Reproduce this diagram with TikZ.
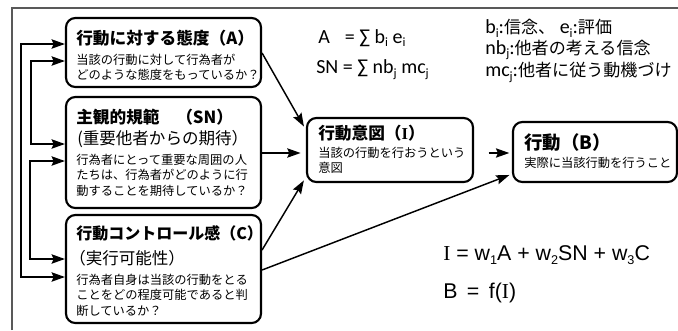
\documentclass[tikz,border=0pt]{standalone}
\usepackage{fontspec}
\setmainfont{Liberation Sans}
\newfontfamily\jp{Noto Sans CJK JP}
\newfontfamily\calf{Carlito}
\newfontfamily\lser{Liberation Serif}
\usetikzlibrary{arrows.meta,fit}
\newcommand\lsub[1]{\raisebox{-0.4ex}{\fontsize{9.5}{10}\selectfont #1}}
\newcommand\jps{\jp\fontsize{12.8}{15}\selectfont}
\tikzset{
  x=0.75pt, y=-0.75pt,
  box/.style={draw, line width=1.6pt, rounded corners=7pt, inner sep=0pt},
  tip/.tip={Stealth[length=10pt,width=7pt,inset=1.5pt]},
  conn/.style={line width=1.1pt, -tip},
  biconn/.style={line width=1.1pt, tip-tip},
  ttl/.style={anchor=west, inner sep=0pt, font=\jp\bfseries\fontsize{12.5}{14}\selectfont},
  subttl/.style={anchor=west, inner sep=0pt, font=\jp\fontsize{12.4}{14}\selectfont},
  bod/.style={anchor=north west, inner sep=0pt, align=left, font=\jp\fontsize{9.2}{11.7}\selectfont},
  frm/.style={anchor=west, inner sep=0pt, font=\calf\fontsize{15}{18}\selectfont},
  eqn/.style={anchor=west, inner sep=0pt, font=\fontsize{16}{18}\selectfont},
}
\begin{document}
\begin{tikzpicture}
\useasboundingbox (0,0) rectangle (678,330);
% outer frame (partly visible)
\draw[line width=1.2pt, black!65] (12,330) -- (12,8) -- (678,8);

% boxes
\node[box, fit={(66,18)(261,87)}] (A) {};
\node[box, fit={(66,97)(261,208)}] (SN) {};
\node[box, fit={(66,215)(261,323)}] (C) {};
\node[box, fit={(307,118)(473,182)}] (I) {};
\node[box, fit={(513,122)(677,182)}] (B) {};

% box texts
\node[ttl] (At) at (76,38) {行動に対する態度（A）};
\node[bod] (Ab) at (76,53.5) {当該の行動に対して行為者が\\どのような態度をもっているか？};
\node[ttl] (St) at (76,117) {主観的規範　（SN）};
\node[subttl] (Ss) at (77,139) {(重要他者からの期待）};
\node[bod] (Sb) at (76,153.5) {行為者にとって重要な周囲の人\\たちは、行為者がどのように行\\動することを期待しているか？};
\node[ttl, font=\jp\bfseries\fontsize{12}{14}\selectfont] (Ct) at (76,233) {行動コントロール感（C）};
\node[subttl] (Cs) at (69,258) {（実行可能性）};
\node[bod] (Cb) at (76,273.5) {行為者自身は当該の行動をとる\\ことをどの程度可能であると判\\断しているか？};
\node[ttl] (It) at (318,133) {行動意図（{\lser I}）};
\node[bod] (Ib) at (318,146.5) {当該の行動を行おうという\\意図};
\node[ttl, font=\jp\bfseries\fontsize{13.8}{16}\selectfont] (Bt) at (524,143) {行動（B）};
\node[anchor=west, inner sep=0pt, font=\jp\fontsize{9.2}{11}\selectfont] (Bb) at (524,163) {実際に当該行動を行うこと};

% formulas
\node[frm] (fA) at (318,38) {\rlap{A}\hphantom{SN} = ∑ b\lsub{i} e\lsub{i}};
\node[frm] (fS) at (316,70) {SN = ∑ nb\lsub{j} mc\lsub{j}};
\node[frm] (d1) at (485,28) {b\lsub{i}:{\jps 信念、}\ e\lsub{i}:{\jps 評価}};
\node[frm] (d2) at (485,50) {nb\lsub{j}:{\jps 他者の考える信念}};
\node[frm] (d3) at (485,72) {mc\lsub{j}:{\jps 他者に従う動機づけ}};
\node[eqn] (e1) at (443,255) {{\lser I} = w\lsub{1}A + w\lsub{2}SN + w\lsub{3}C};
\node[eqn] (e2) at (443,293) {B \,=\, f({\lser I})};

% connectors on the left
\draw[biconn] (A.west |- 0,44) -- (21,44) -- (21,277) -- (C.west |- 0,277);
\draw[biconn] (A.west |- 0,61) -- (31,61) -- (31,144) -- (SN.west |- 0,144);
\draw[biconn] (SN.west |- 0,161) -- (30,161) -- (30,259) -- (C.west |- 0,259);

% connectors to the right
\draw[conn, shorten >=3pt] (A.east |- 0,53) -- (I.west |- 0,130);
\draw[conn, shorten >=4pt] (SN.east |- 0,153) -- (I.west |- 0,153);
\draw[conn, shorten >=3pt] (C.east |- 0,250) -- (I.west |- 0,177);
\draw[conn, shorten <=11pt, shorten >=2pt] (I.east |- 0,153) -- (B.west |- 0,153);
\draw[conn, shorten >=2pt] (C.east |- 0,270) -- (B.west |- 0,174);
\end{tikzpicture}
\end{document}
